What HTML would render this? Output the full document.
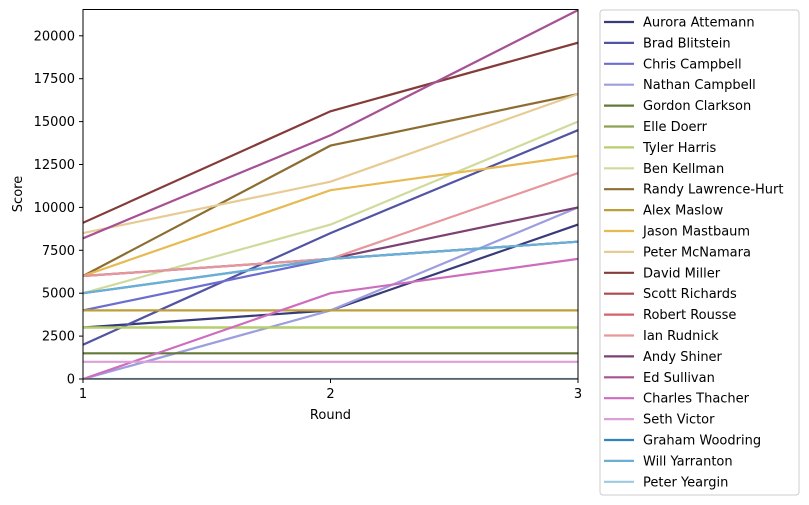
<!DOCTYPE html>
<html><head><meta charset="utf-8"><style>
html,body{margin:0;padding:0;background:#fff;}
svg{display:block;font-family:"DejaVu Sans","Liberation Sans",sans-serif;}
</style></head><body>
<svg width="809" height="505" viewBox="0 0 809 505" xmlns="http://www.w3.org/2000/svg">
<defs><clipPath id="c"><rect x="83" y="9.5" width="495" height="369.5"/></clipPath></defs>
<g clip-path="url(#c)" fill="none" stroke-width="2.2">
<polyline stroke="#393b79" points="83,327.5 330.5,310.4 578,224.6"/>
<polyline stroke="#5254a3" points="83,344.7 330.5,233.1 578,130.2"/>
<polyline stroke="#6b6ecf" points="83,310.4 330.5,258.9 578,241.7"/>
<polyline stroke="#9c9ede" points="83,379 330.5,310.4 578,207.4"/>
<polyline stroke="#637939" points="83,353.3 330.5,353.3 578,353.3"/>
<polyline stroke="#8ca252" points="83,327.5 330.5,327.5 578,327.5"/>
<polyline stroke="#b5cf6b" points="83,327.5 330.5,327.5 578,327.5"/>
<polyline stroke="#cedb9c" points="83,293.2 330.5,224.6 578,121.6"/>
<polyline stroke="#8c6d31" points="83,276 330.5,145.6 578,94.1"/>
<polyline stroke="#bd9e39" points="83,310.4 330.5,310.4 578,310.4"/>
<polyline stroke="#e7ba52" points="83,276 330.5,190.2 578,155.9"/>
<polyline stroke="#e7cb94" points="83,233.1 330.5,181.7 578,94.1"/>
<polyline stroke="#843c39" points="83,222.8 330.5,111.3 578,42.7"/>
<polyline stroke="#7b4173" points="83,276 330.5,258.9 578,207.4"/>
<polyline stroke="#e7969c" points="83,276 330.5,258.9 578,173.1"/>
<polyline stroke="#a55194" points="83,238.3 330.5,135.3 578,10.1"/>
<polyline stroke="#ce6dbd" points="83,379 330.5,293.2 578,258.9"/>
<polyline stroke="#de9ed6" points="83,361.8 330.5,361.8 578,361.8"/>
<polyline stroke="#3182bd" points="83,293.2 330.5,258.9 578,241.7"/>
<polyline stroke="#6baed6" points="83,293.2 330.5,258.9 578,241.7"/>
<polyline stroke="#9ecae1" points="83,379 330.5,379 578,379"/>
</g>
<rect x="83" y="9.5" width="495" height="369.5" fill="none" stroke="#000" stroke-width="1"/>
<g stroke="#000" stroke-width="1">
<line x1="79" y1="379" x2="83" y2="379"/><line x1="79" y1="336.1" x2="83" y2="336.1"/><line x1="79" y1="293.2" x2="83" y2="293.2"/><line x1="79" y1="250.3" x2="83" y2="250.3"/><line x1="79" y1="207.4" x2="83" y2="207.4"/><line x1="79" y1="164.5" x2="83" y2="164.5"/><line x1="79" y1="121.6" x2="83" y2="121.6"/><line x1="79" y1="78.7" x2="83" y2="78.7"/><line x1="79" y1="35.8" x2="83" y2="35.8"/>
<line x1="83" y1="379" x2="83" y2="383"/><line x1="330.5" y1="379" x2="330.5" y2="383"/><line x1="578" y1="379" x2="578" y2="383"/>
</g>
<g font-size="13" text-anchor="end" fill="#000">
<text x="75" y="383.5">0</text><text x="75" y="340.6">2500</text><text x="75" y="297.7">5000</text><text x="75" y="254.8">7500</text><text x="75" y="211.9">10000</text><text x="75" y="169">12500</text><text x="75" y="126.1">15000</text><text x="75" y="83.2">17500</text><text x="75" y="40.3">20000</text>
</g>
<g font-size="13" text-anchor="middle" fill="#000">
<text x="83" y="398">1</text><text x="330.5" y="398">2</text><text x="578" y="398">3</text>
<text x="330.5" y="419">Round</text>
<text transform="translate(22,194) rotate(-90)">Score</text>
</g>
<rect x="600" y="10" width="199" height="485" rx="3" fill="#fff" stroke="#ccc" stroke-width="1"/>
<g stroke-width="2.2">
<line x1="604" x2="634" y1="22" y2="22" stroke="#393b79"/>
<line x1="604" x2="634" y1="42.9" y2="42.9" stroke="#5254a3"/>
<line x1="604" x2="634" y1="63.8" y2="63.8" stroke="#6b6ecf"/>
<line x1="604" x2="634" y1="84.7" y2="84.7" stroke="#9c9ede"/>
<line x1="604" x2="634" y1="105.6" y2="105.6" stroke="#637939"/>
<line x1="604" x2="634" y1="126.5" y2="126.5" stroke="#8ca252"/>
<line x1="604" x2="634" y1="147.4" y2="147.4" stroke="#b5cf6b"/>
<line x1="604" x2="634" y1="168.3" y2="168.3" stroke="#cedb9c"/>
<line x1="604" x2="634" y1="189.2" y2="189.2" stroke="#8c6d31"/>
<line x1="604" x2="634" y1="210.1" y2="210.1" stroke="#bd9e39"/>
<line x1="604" x2="634" y1="231" y2="231" stroke="#e7ba52"/>
<line x1="604" x2="634" y1="251.9" y2="251.9" stroke="#e7cb94"/>
<line x1="604" x2="634" y1="272.8" y2="272.8" stroke="#843c39"/>
<line x1="604" x2="634" y1="293.7" y2="293.7" stroke="#ad494a"/>
<line x1="604" x2="634" y1="314.6" y2="314.6" stroke="#d6616b"/>
<line x1="604" x2="634" y1="335.5" y2="335.5" stroke="#e7969c"/>
<line x1="604" x2="634" y1="356.4" y2="356.4" stroke="#7b4173"/>
<line x1="604" x2="634" y1="377.3" y2="377.3" stroke="#a55194"/>
<line x1="604" x2="634" y1="398.2" y2="398.2" stroke="#ce6dbd"/>
<line x1="604" x2="634" y1="419.1" y2="419.1" stroke="#de9ed6"/>
<line x1="604" x2="634" y1="440" y2="440" stroke="#3182bd"/>
<line x1="604" x2="634" y1="460.9" y2="460.9" stroke="#6baed6"/>
<line x1="604" x2="634" y1="481.8" y2="481.8" stroke="#9ecae1"/>
</g>
<g font-size="13" fill="#000">
<text x="643" y="26.5">Aurora Attemann</text>
<text x="643" y="47.4">Brad Blitstein</text>
<text x="643" y="68.3">Chris Campbell</text>
<text x="643" y="89.2">Nathan Campbell</text>
<text x="643" y="110.1">Gordon Clarkson</text>
<text x="643" y="131">Elle Doerr</text>
<text x="643" y="151.9">Tyler Harris</text>
<text x="643" y="172.8">Ben Kellman</text>
<text x="643" y="193.7">Randy Lawrence-Hurt</text>
<text x="643" y="214.6">Alex Maslow</text>
<text x="643" y="235.5">Jason Mastbaum</text>
<text x="643" y="256.4">Peter McNamara</text>
<text x="643" y="277.3">David Miller</text>
<text x="643" y="298.2">Scott Richards</text>
<text x="643" y="319.1">Robert Rousse</text>
<text x="643" y="340">Ian Rudnick</text>
<text x="643" y="360.9">Andy Shiner</text>
<text x="643" y="381.8">Ed Sullivan</text>
<text x="643" y="402.7">Charles Thacher</text>
<text x="643" y="423.6">Seth Victor</text>
<text x="643" y="444.5">Graham Woodring</text>
<text x="643" y="465.4">Will Yarranton</text>
<text x="643" y="486.3">Peter Yeargin</text>
</g>
</svg>
</body></html>
